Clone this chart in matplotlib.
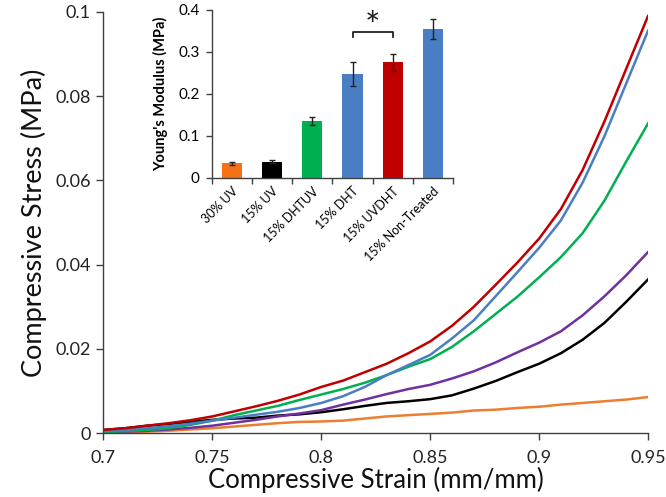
import matplotlib
matplotlib.use("Agg")
import matplotlib.pyplot as plt
from matplotlib.ticker import FixedLocator

plt.rcParams['font.family'] = ['Lato', 'DejaVu Sans']

# ---- main curves data ----
strain = [0.70, 0.71, 0.72, 0.73, 0.74, 0.75, 0.76, 0.77, 0.78, 0.79, 0.80, 0.81, 0.82,
          0.83, 0.84, 0.85, 0.86, 0.87, 0.88, 0.89, 0.90, 0.91, 0.92, 0.93, 0.94, 0.95]

stress_15_uvdht = [0.0008, 0.0012, 0.0018, 0.0024, 0.0031, 0.0040, 0.0052, 0.0064, 0.0077, 0.0092,
                   0.0110, 0.0125, 0.0145, 0.0165, 0.0190, 0.0218, 0.0255, 0.0300, 0.0352, 0.0405,
                   0.0462, 0.0532, 0.0625, 0.0740, 0.0865, 0.0990]
stress_15_nontreated = [0.0005, 0.0008, 0.0012, 0.0017, 0.0023, 0.0030, 0.0037, 0.0044, 0.0051, 0.0060,
                        0.0072, 0.0088, 0.0110, 0.0138, 0.0162, 0.0186, 0.0225, 0.0268, 0.0325, 0.0382,
                        0.0440, 0.0505, 0.0595, 0.0705, 0.0830, 0.0955]
stress_15_dhtuv = [0.0003, 0.0005, 0.0008, 0.0012, 0.0020, 0.0030, 0.0043, 0.0054, 0.0065, 0.0079,
                   0.0092, 0.0105, 0.0120, 0.0138, 0.0158, 0.0176, 0.0205, 0.0242, 0.0283, 0.0324,
                   0.0370, 0.0418, 0.0475, 0.0552, 0.0645, 0.0735]
stress_15_dht = [0.0002, 0.0004, 0.0006, 0.0009, 0.0013, 0.0018, 0.0025, 0.0032, 0.0040, 0.0047,
                 0.0055, 0.0068, 0.0080, 0.0093, 0.0105, 0.0115, 0.0130, 0.0147, 0.0168, 0.0192,
                 0.0215, 0.0242, 0.0280, 0.0325, 0.0375, 0.0430]
stress_15_uv = [0.0008, 0.0012, 0.0018, 0.0022, 0.0027, 0.0032, 0.0035, 0.0037, 0.0042, 0.0045,
                0.0050, 0.0057, 0.0065, 0.0072, 0.0076, 0.0081, 0.0090, 0.0106, 0.0124, 0.0145,
                0.0165, 0.0190, 0.0222, 0.0262, 0.0312, 0.0365]
stress_30_uv = [0.0000, 0.0002, 0.0004, 0.0006, 0.0009, 0.0012, 0.0016, 0.0020, 0.0024, 0.0027,
                0.0028, 0.0030, 0.0035, 0.0040, 0.0043, 0.0046, 0.0049, 0.0054, 0.0056, 0.0060,
                0.0063, 0.0068, 0.0072, 0.0076, 0.0080, 0.0086]

# ---- inset bar data ----
bar_labels = ['30% UV', '15% UV', '15% DHTUV', '15% DHT', '15% UVDHT', '15% Non-Treated']
bar_values = [0.035, 0.039, 0.136, 0.248, 0.275, 0.355]
bar_errors = [0.004, 0.004, 0.009, 0.029, 0.020, 0.024]

c_orange_line = '#ED7D31'
c_orange_bar = '#F47216'
c_black = '#000000'
c_green = '#00B050'
c_blue = '#4A7EC4'
c_red = '#C00000'
c_purple = '#7030A0'
spine_c = '#404040'

fig = plt.figure(figsize=(6.66, 4.97), dpi=100)
ax = fig.add_axes([0.1554, 0.1282, 0.8176, 0.848])

lw = 1.8
ax.plot(strain, stress_30_uv, color=c_orange_line, lw=lw)
ax.plot(strain, stress_15_uv, color=c_black, lw=lw)
ax.plot(strain, stress_15_dht, color=c_purple, lw=lw)
ax.plot(strain, stress_15_dhtuv, color=c_green, lw=lw)
ax.plot(strain, stress_15_nontreated, color=c_blue, lw=lw)
ax.plot(strain, stress_15_uvdht, color=c_red, lw=lw)

ax.set_xlim(0.7, 0.95)
ax.set_ylim(0, 0.1)
ax.set_xticks([0.7, 0.75, 0.8, 0.85, 0.9, 0.95])
ax.set_xticklabels(['0.7', '0.75', '0.8', '0.85', '0.9', '0.95'])
ax.set_yticks([0, 0.02, 0.04, 0.06, 0.08, 0.1])
ax.set_yticklabels(['0', '0.02', '0.04', '0.06', '0.08', '0.1'])
for s in ['top', 'right']:
    ax.spines[s].set_visible(False)
for s in ['left', 'bottom']:
    ax.spines[s].set_color(spine_c)
    ax.spines[s].set_linewidth(1.0)
ax.tick_params(axis='both', direction='out', length=5, width=1.0, color=spine_c,
               labelsize=13, labelcolor='#222222')
ax.tick_params(axis='x', pad=7)
ax.tick_params(axis='y', pad=4)
ax.set_xlabel('Compressive Strain (mm/mm)', fontsize=18.5, labelpad=1, color='#111111')
ax.set_ylabel('Compressive Stress (MPa)', fontsize=19.5, labelpad=6, color='#111111')

# ---- inset ----
ins = fig.add_axes([0.3183, 0.6419, 0.3617, 0.338])
ins.patch.set_alpha(0)
xpos = list(range(len(bar_values)))
colors = [c_orange_bar, c_black, c_green, c_blue, c_red, c_blue]
ins.bar(xpos, bar_values, width=0.5, color=colors, yerr=bar_errors,
        error_kw=dict(ecolor='#222222', elinewidth=1.0, capsize=2.5, capthick=1.0))
ins.set_xlim(-0.5, 5.5)
ins.set_ylim(0, 0.4)
ins.set_yticks([0, 0.1, 0.2, 0.3, 0.4])
ins.set_yticklabels(['0', '0.1', '0.2', '0.3', '0.4'])
ins.set_xticks(xpos)
ins.set_xticklabels(bar_labels, rotation=45, ha='right', rotation_mode='anchor', fontsize=9)
ins.xaxis.set_minor_locator(FixedLocator([i - 0.5 for i in range(len(bar_values) + 1)]))
ins.tick_params(axis='x', which='major', length=0, pad=5)
ins.tick_params(axis='x', which='minor', direction='out', length=4, width=1.0, color=spine_c)
ins.tick_params(axis='y', direction='out', length=4, width=1.0, color=spine_c, labelsize=11,
                pad=5)
for s in ['top', 'right']:
    ins.spines[s].set_visible(False)
for s in ['left', 'bottom']:
    ins.spines[s].set_color(spine_c)
    ins.spines[s].set_linewidth(1.0)
ins.set_ylabel("Young's Modulus (MPa)", fontsize=10.5, fontweight='bold', labelpad=7)

# significance bracket between 15% DHT and 15% UVDHT
b_lo, b_hi = 0.335, 0.348
ins.plot([3, 3, 4, 4], [b_lo, b_hi, b_hi, b_lo], color='#222222', lw=1.3)
ins.text(3.5, b_hi - 0.028, '*', ha='center', va='bottom', fontsize=26, color='#222222')

fig.savefig('out.png', dpi=100)
